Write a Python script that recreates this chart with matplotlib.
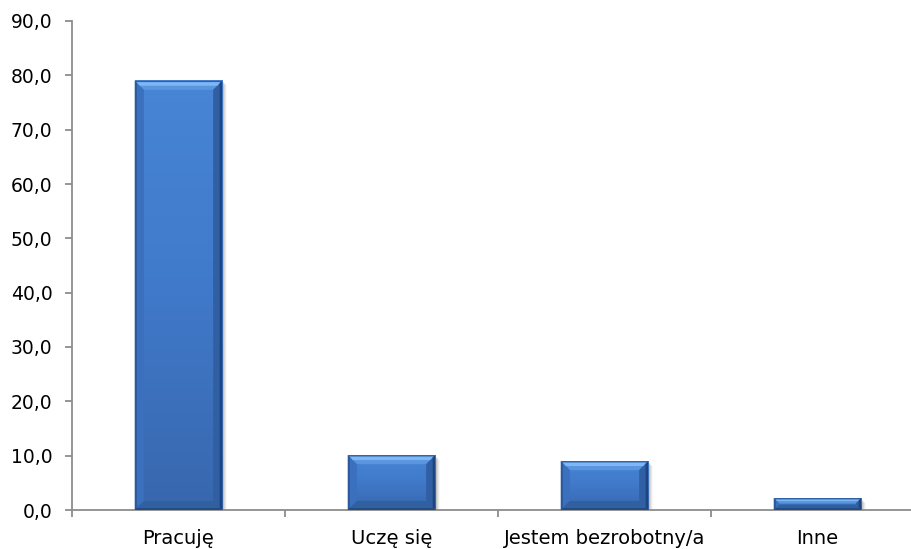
import numpy as np
import matplotlib
matplotlib.use("Agg")
import matplotlib.pyplot as plt
from matplotlib.patches import Polygon
from matplotlib.colors import LinearSegmentedColormap
from matplotlib.ticker import FuncFormatter, FixedLocator

categories = ["Pracuję", "Uczę się", "Jestem bezrobotny/a", "Inne"]
values = [79.0, 10.1, 9.0, 2.2]
y_ticks = [0, 10, 20, 30, 40, 50, 60, 70, 80, 90]

W, H = 912, 549
fig = plt.figure(figsize=(W / 100, H / 100), dpi=100)
# the category axis runs a little past the right edge of the canvas
ax = fig.add_axes([72 / W, (H - 510) / H, (924 - 72) / W, (510 - 21) / H])

x = np.arange(len(categories))
bar_width = 0.41
base_color = "#3f7acb"
bars = ax.bar(x, values, width=bar_width, color=base_color, zorder=3, linewidth=0)

ax.set_xlim(-0.5, len(categories) - 0.5)
ax.set_ylim(0, 90)
ax.set_yticks(y_ticks)
ax.yaxis.set_major_formatter(FuncFormatter(lambda v, p: f"{v:.1f}".replace(".", ",")))
ax.set_xticks(x)
ax.set_xticklabels(categories)
ax.xaxis.set_minor_locator(FixedLocator(np.arange(-0.5, len(categories), 1.0)))

for side in ("top", "right"):
    ax.spines[side].set_visible(False)
for side in ("left", "bottom"):
    ax.spines[side].set_color("#8c8c8c")
    ax.spines[side].set_linewidth(1.3)

ax.tick_params(axis="y", direction="out", length=5, width=1.3, color="#8c8c8c",
               labelsize=13.5, labelcolor="black", pad=9)
ax.tick_params(axis="x", which="major", length=0, labelsize=14, labelcolor="black", pad=14)
ax.tick_params(axis="x", which="minor", direction="out", length=5, width=1.3, color="#8c8c8c")

# Bevel and shadow decorations built from each bar's pixel box
fig.canvas.draw()
to_data = ax.transData.inverted()
bevel = 9.0


def poly(points, color, z, alpha=1.0):
    pts = to_data.transform(np.array(points))
    ax.add_patch(Polygon(pts, closed=True, facecolor=color, edgecolor="none",
                         zorder=z, alpha=alpha))


grad = np.linspace(0, 1, 64).reshape(-1, 1)
face_cmap = LinearSegmentedColormap.from_list("face", ["#3867ae", "#4079c9", "#4885d5"])

for b in bars:
    x0, y0 = b.get_x(), 0
    x1, y1 = b.get_x() + b.get_width(), b.get_height()
    (px0, py0), (px1, py1) = ax.transData.transform([(x0, y0), (x1, y1)])
    bv = min(bevel, (py1 - py0) / 2.2)

    # soft drop shadow
    for i, a in enumerate([0.10, 0.07, 0.05, 0.03]):
        off = 1.5 + i
        poly([(px0 + off * 0.6, py0 - off), (px1 + off, py0 - off), (px1 + off, py1 - off),
              (px0 + off * 0.6, py1 - off)], "#000000", 2, a)

    # face gradient
    ax.imshow(grad, cmap=face_cmap, extent=(x0, x1, y0, y1), aspect="auto",
              origin="lower", zorder=3.1, interpolation="bilinear")

    # top bevel
    poly([(px0, py1), (px1, py1), (px1 - bv, py1 - bv), (px0 + bv, py1 - bv)], "#5a95e0", 4)
    poly([(px0 + 2, py1 - 1.5), (px1 - 2, py1 - 1.5), (px1 - bv * 0.55, py1 - bv * 0.55),
          (px0 + bv * 0.55, py1 - bv * 0.55)], "#80b6f4", 4.05)
    poly([(px0, py1), (px1, py1), (px1 - 1.2, py1 - 1.2), (px0 + 1.2, py1 - 1.2)], "#2f5fa5", 4.1)
    # left bevel
    poly([(px0, py0), (px0 + bv, py0 + bv), (px0 + bv, py1 - bv), (px0, py1)], "#3a70bd", 4)
    poly([(px0, py0), (px0 + 2, py0 + 2), (px0 + 2, py1 - 2), (px0, py1)], "#2c5899", 4.1)
    # right bevel
    poly([(px1, py0), (px1, py1), (px1 - bv, py1 - bv), (px1 - bv, py0 + bv)], "#305fa3", 4)
    poly([(px1, py0), (px1, py1), (px1 - 2.5, py1 - 2.5), (px1 - 2.5, py0 + 2.5)], "#1f4581", 4.1)
    # bottom bevel
    poly([(px0, py0), (px1, py0), (px1 - bv, py0 + bv), (px0 + bv, py0 + bv)], "#31609f", 4)
    poly([(px0, py0), (px1, py0), (px1 - 2, py0 + 2), (px0 + 2, py0 + 2)], "#234b88", 4.1)

ax.set_xlim(-0.5, len(categories) - 0.5)
ax.set_ylim(0, 90)

fig.savefig("out.png", dpi=100)
